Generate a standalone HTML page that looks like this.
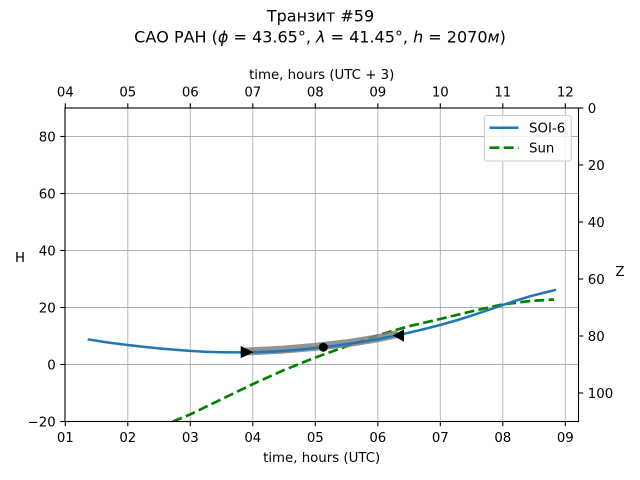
<!DOCTYPE html>
<html><head><meta charset="utf-8"><style>
html,body{margin:0;padding:0;background:#fff;}
svg{display:block;}
text{font-family:"DejaVu Sans","Liberation Sans",sans-serif;font-size:13.33px;fill:#000;}
</style></head><body>
<svg width="640" height="480" viewBox="0 0 640 480" xmlns="http://www.w3.org/2000/svg">
<defs><clipPath id="ax"><rect x="65" y="108" width="513.5" height="313.5"/></clipPath></defs>
<!-- grid -->
<g stroke="#b0b0b0" stroke-width="0.9">
<line x1="127.8" y1="108" x2="127.8" y2="421.5"/>
<line x1="190.3" y1="108" x2="190.3" y2="421.5"/>
<line x1="252.8" y1="108" x2="252.8" y2="421.5"/>
<line x1="315.3" y1="108" x2="315.3" y2="421.5"/>
<line x1="377.8" y1="108" x2="377.8" y2="421.5"/>
<line x1="440.3" y1="108" x2="440.3" y2="421.5"/>
<line x1="502.8" y1="108" x2="502.8" y2="421.5"/>
<line x1="565.3" y1="108" x2="565.3" y2="421.5"/>
<line x1="65" y1="136.5" x2="578.5" y2="136.5"/>
<line x1="65" y1="193.5" x2="578.5" y2="193.5"/>
<line x1="65" y1="250.5" x2="578.5" y2="250.5"/>
<line x1="65" y1="307.5" x2="578.5" y2="307.5"/>
<line x1="65" y1="364.5" x2="578.5" y2="364.5"/>
</g>
<g clip-path="url(#ax)">
<!-- sun -->
<polyline fill="none" stroke="#008000" stroke-width="2.67" stroke-dasharray="9.9,4.3" points="160,428 173,421.5 190,414.5 221,399.5 252,384.5 283,370.5 314,358 346,346.5 377,335.5 408,326.5 440,319 471,311.5 502,304.5 530,301 554,299.5"/>
<!-- transit band -->
<polyline fill="none" stroke="#808080" stroke-opacity="0.85" stroke-width="8" stroke-linecap="butt" points="245,351.4 252,351.2 283,349.6 314,347 346,343.4 377,338.4 398,334"/>
<!-- SOI-6 -->
<polyline fill="none" stroke="#1f77b4" stroke-width="2.5" stroke-linejoin="round" points="87.7,339.3 107,342.4 127.7,345 144,346.9 160,348.5 175,349.8 190,350.9 205,351.7 220,352.2 236,352.4 252,352.3 268,351.8 283,351 299,349.7 314,348.1 330,346.4 346,344.3 362,341.9 377,339.3 393,336.2 408,332.9 424,329.1 440,325 456,320.5 471,315.8 487,310.5 502,305.3 516,300.6 530,296.3 543,293 556,289.8"/>
<!-- markers -->
<polygon points="240.7,346 240.7,358.3 253.3,352.2" fill="#000"/>
<circle cx="323.3" cy="347.2" r="4.5" fill="#000"/>
<polygon points="404,329.3 404,341.7 392.7,335.5" fill="#000"/>
</g>
<!-- spines -->
<rect x="65" y="108" width="513.5" height="313.5" fill="none" stroke="#000" stroke-width="1.1"/>
<!-- ticks -->
<g stroke="#000" stroke-width="1.1">
<!-- bottom -->
<line x1="65.3" y1="421.5" x2="65.3" y2="426.2"/><line x1="127.8" y1="421.5" x2="127.8" y2="426.2"/><line x1="190.3" y1="421.5" x2="190.3" y2="426.2"/><line x1="252.8" y1="421.5" x2="252.8" y2="426.2"/><line x1="315.3" y1="421.5" x2="315.3" y2="426.2"/><line x1="377.8" y1="421.5" x2="377.8" y2="426.2"/><line x1="440.3" y1="421.5" x2="440.3" y2="426.2"/><line x1="502.8" y1="421.5" x2="502.8" y2="426.2"/><line x1="565.3" y1="421.5" x2="565.3" y2="426.2"/>
<!-- top -->
<line x1="65.3" y1="108" x2="65.3" y2="103.3"/><line x1="127.8" y1="108" x2="127.8" y2="103.3"/><line x1="190.3" y1="108" x2="190.3" y2="103.3"/><line x1="252.8" y1="108" x2="252.8" y2="103.3"/><line x1="315.3" y1="108" x2="315.3" y2="103.3"/><line x1="377.8" y1="108" x2="377.8" y2="103.3"/><line x1="440.3" y1="108" x2="440.3" y2="103.3"/><line x1="502.8" y1="108" x2="502.8" y2="103.3"/><line x1="565.3" y1="108" x2="565.3" y2="103.3"/>
<!-- left -->
<line x1="65" y1="136.5" x2="60.3" y2="136.5"/><line x1="65" y1="193.5" x2="60.3" y2="193.5"/><line x1="65" y1="250.5" x2="60.3" y2="250.5"/><line x1="65" y1="307.5" x2="60.3" y2="307.5"/><line x1="65" y1="364.5" x2="60.3" y2="364.5"/><line x1="65" y1="421.5" x2="60.3" y2="421.5"/>
<!-- right -->
<line x1="578.5" y1="108" x2="583.2" y2="108"/><line x1="578.5" y1="165" x2="583.2" y2="165"/><line x1="578.5" y1="222" x2="583.2" y2="222"/><line x1="578.5" y1="279" x2="583.2" y2="279"/><line x1="578.5" y1="336" x2="583.2" y2="336"/><line x1="578.5" y1="393" x2="583.2" y2="393"/>
</g>
<!-- bottom tick labels -->
<g text-anchor="middle">
<text x="65.3" y="442">01</text><text x="127.8" y="442">02</text><text x="190.3" y="442">03</text><text x="252.8" y="442">04</text><text x="315.3" y="442">05</text><text x="377.8" y="442">06</text><text x="440.3" y="442">07</text><text x="502.8" y="442">08</text><text x="565.3" y="442">09</text>
<text x="65.3" y="96.5">04</text><text x="127.8" y="96.5">05</text><text x="190.3" y="96.5">06</text><text x="252.8" y="96.5">07</text><text x="315.3" y="96.5">08</text><text x="377.8" y="96.5">09</text><text x="440.3" y="96.5">10</text><text x="502.8" y="96.5">11</text><text x="565.3" y="96.5">12</text>
<text x="321.7" y="462">time, hours (UTC)</text>
<text x="321.7" y="79">time, hours (UTC + 3)</text>
</g>
<!-- left tick labels -->
<g text-anchor="end">
<text x="55.7" y="141.5">80</text><text x="55.7" y="198.5">60</text><text x="55.7" y="255.5">40</text><text x="55.7" y="312.5">20</text><text x="55.7" y="369.5">0</text><text x="55.7" y="426.5">−20</text>
</g>
<!-- right tick labels -->
<g text-anchor="start">
<text x="587.8" y="113">0</text><text x="587.8" y="170">20</text><text x="587.8" y="227">40</text><text x="587.8" y="284">60</text><text x="587.8" y="341">80</text><text x="587.8" y="398">100</text>
</g>
<text x="20" y="262" text-anchor="middle">H</text>
<text x="620" y="276" text-anchor="middle">Z</text>
<!-- title -->
<g text-anchor="middle" style="font-size:16px">
<text x="320.5" y="21.5" style="font-size:16px">Транзит #59</text>
<text x="320" y="42.5" style="font-size:16px">САО РАН (<tspan font-style="italic">ϕ</tspan> = 43.65°, <tspan font-style="italic">λ</tspan> = 41.45°, <tspan font-style="italic">h</tspan> = 2070<tspan font-style="italic">м</tspan>)</text>
</g>
<!-- legend -->
<rect x="484.3" y="115.5" width="87" height="45.5" rx="2.5" fill="#fff" fill-opacity="0.8" stroke="#cccccc" stroke-width="1"/>
<line x1="489.5" y1="127.7" x2="518.5" y2="127.7" stroke="#1f77b4" stroke-width="2.5"/>
<line x1="489.5" y1="147.7" x2="518.5" y2="147.7" stroke="#008000" stroke-width="2.67" stroke-dasharray="9.9,4.3"/>
<text x="529" y="132.5">SOI-6</text>
<text x="529" y="152.5">Sun</text>
</svg>
</body></html>
